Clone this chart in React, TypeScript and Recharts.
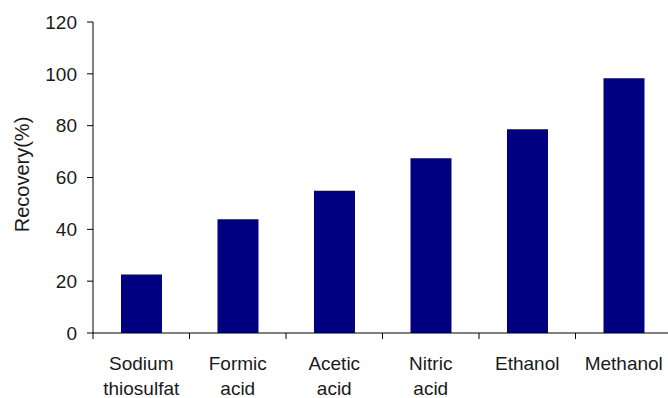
import React from 'react';
import { BarChart, Bar, XAxis, YAxis, Label } from 'recharts';

const solvents = ['Sodium\nthiosulfat', 'Formic\nacid', 'Acetic\nacid', 'Nitric\nacid', 'Ethanol', 'Methanol'];
const recovery = [22.6, 43.9, 54.9, 67.4, 78.6, 98.3];
const yTicks = [0, 20, 40, 60, 80, 100, 120];

const data = solvents.map((name, i) => ({ name, recovery: recovery[i] }));

const FONT = '"Liberation Sans", Arial, sans-serif';

// category label split over two lines, plus a tick mark on the left edge of each band
function SolventTick(props: any) {
  const { x, y, payload } = props;
  const lines = String(payload.value).split('\n');
  const edge = x - (payload.offset || 0);
  return (
    <g>
      <line x1={edge} y1={y - 8} x2={edge} y2={y - 2} stroke="#000" strokeWidth={1} />
      <text x={x} y={y} textAnchor="middle" fontSize={19} fontFamily={FONT} fill="#1a1a1a">
        {lines.map((line, i) => (
          <tspan key={i} x={x} dy={i === 0 ? 29 : 25}>
            {line}
          </tspan>
        ))}
      </text>
    </g>
  );
}

function AxisTitle(props: any) {
  const { viewBox } = props;
  const cx = 22;
  const cy = viewBox.y + viewBox.height / 2 - 3;
  return (
    <text
      x={cx}
      y={cy}
      transform={`rotate(-90, ${cx}, ${cy})`}
      textAnchor="middle"
      dominantBaseline="central"
      fontSize={20}
      fontFamily={FONT}
      fill="#1a1a1a"
    >
      Recovery(%)
    </text>
  );
}

export default function App() {
  return (
    <div style={{ position: 'absolute', left: 0, top: 0, width: 668, height: 398, overflow: 'hidden', background: '#fff' }}>
      <BarChart
        width={672}
        height={398}
        data={data}
        margin={{ top: 22, right: 0, bottom: 5, left: 0 }}
        barCategoryGap="29%"
      >
        <XAxis
          dataKey="name"
          interval={0}
          height={60}
          axisLine={{ stroke: '#000', strokeWidth: 1 }}
          tickLine={false}
          tick={<SolventTick />}
        />
        <YAxis
          width={93}
          domain={[0, 120]}
          ticks={yTicks}
          interval={0}
          axisLine={{ stroke: '#000', strokeWidth: 1 }}
          tickLine={{ stroke: '#000', strokeWidth: 1 }}
          tickSize={6}
          tickMargin={10}
          tick={{ fontSize: 19, fontFamily: FONT, fill: '#1a1a1a' }}
        >
          <Label content={<AxisTitle />} />
        </YAxis>
        <Bar dataKey="recovery" fill="#000080" isAnimationActive={false} />
      </BarChart>
    </div>
  );
}
